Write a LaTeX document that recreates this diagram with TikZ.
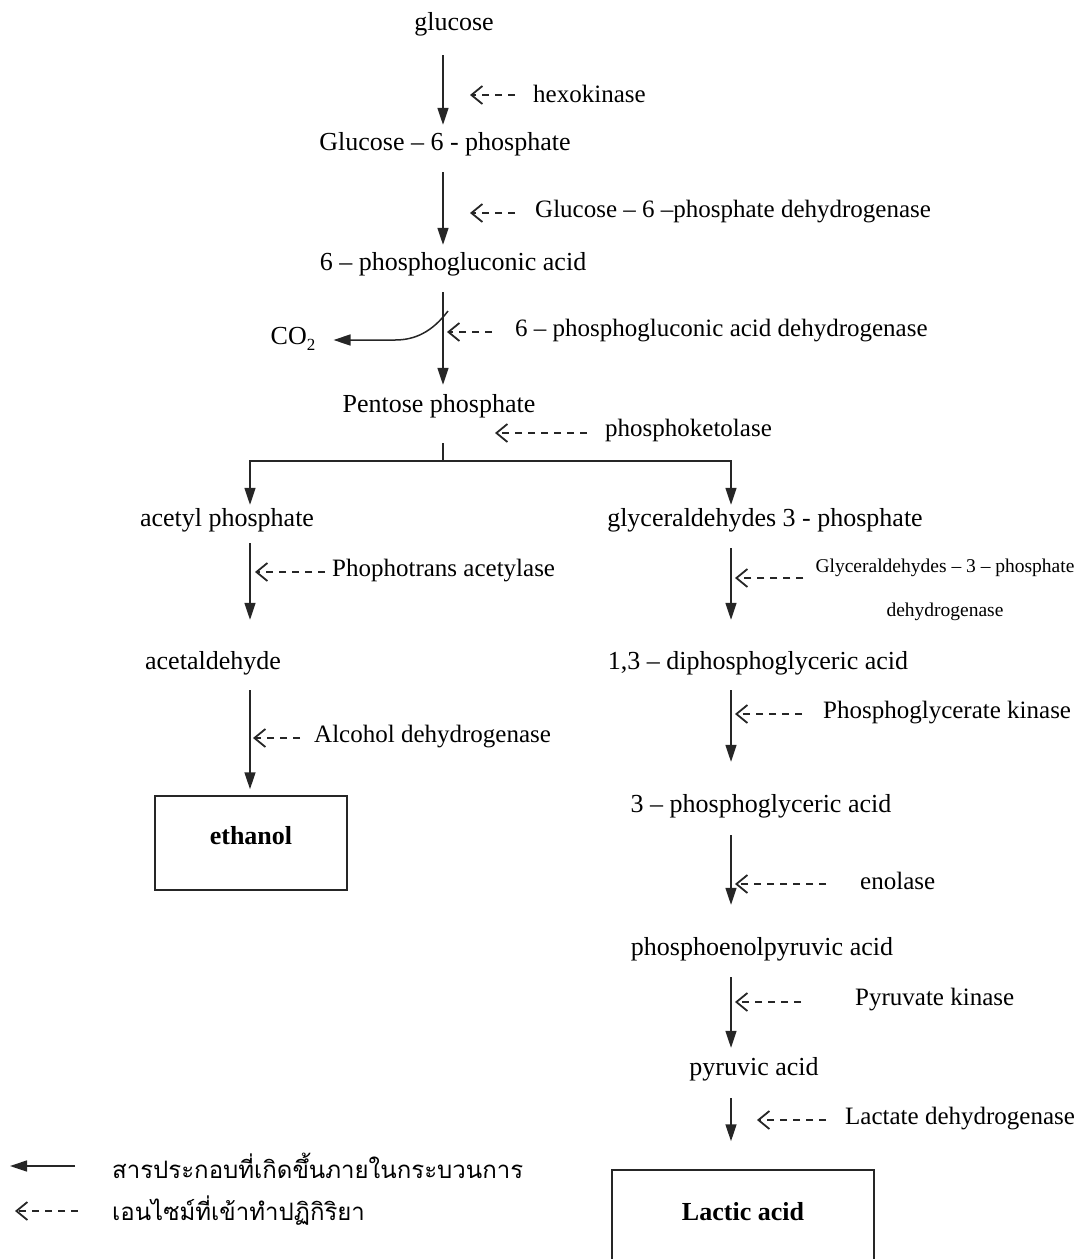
\documentclass[tikz,border=0pt]{standalone}
\usepackage{fontspec}
\setmainfont{Liberation Serif}
\newfontfamily\thaifont[Script=Thai]{Loma}
\usetikzlibrary{arrows.meta}
\begin{document}
\begin{tikzpicture}[x=1pt,y=-1pt,
  cmp/.style={inner sep=0pt, font=\fontsize{26}{30}\selectfont, text height=20pt, text depth=4pt},
  enzl/.style={inner sep=0pt, anchor=west, font=\fontsize{25}{29}\selectfont},
  main/.style={line width=1.5pt, draw=black!85, -{Triangle[length=17pt,width=11pt]}},
  plain/.style={line width=1.5pt, draw=black!85},
  enz/.style={line width=1.6pt, draw=black!85, dash pattern=on 7pt off 6pt, -{Straight Barb[length=11pt,width=18pt,line width=1.8pt]}},
  prodbox/.style={draw=black!85, line width=1.5pt, inner sep=0pt, font=\fontsize{26}{30}\selectfont\bfseries},
  thai/.style={inner sep=0pt, anchor=west, font=\fontsize{24}{28}\thaifont}]
\useasboundingbox (0,0) rectangle (1082,1259);
% spines
\coordinate (sp) at (443,0);
\coordinate (sl) at (250,0);
\coordinate (sr) at (731,0);
% compounds
\node[cmp] (glc) at (454,22) {glucose};
\node[cmp] (g6p) at (445,142) {Glucose – 6 - phosphate};
\node[cmp] (pga) at (453,262) {6 – phosphogluconic acid};
\node[cmp] (pent) at (439,404) {Pentose phosphate};
\node[cmp] (acp) at (227,518) {acetyl phosphate};
\node[cmp] (gap) at (765,518) {glyceraldehydes 3 - phosphate};
\node[cmp] (acd) at (213,661) {acetaldehyde};
\node[cmp] (dpg) at (758,661) {1,3 – diphosphoglyceric acid};
\node[cmp] (ppg) at (761,804) {3 – phosphoglyceric acid};
\node[cmp] (pep) at (762,947) {phosphoenolpyruvic acid};
\node[cmp] (pyr) at (754,1067) {pyruvic acid};
\node[cmp] (co2) at (293,336) {CO\raisebox{-6pt}{\fontsize{17}{20}\selectfont 2}};
% products
\node[prodbox, minimum width=192pt, text height=48pt, text depth=46pt] (eth) at (251,843) {ethanol};
\node[prodbox, minimum width=262pt, text height=50pt, text depth=60pt] (lac) at (743,1225) {Lactic acid};
% enzymes
\node[enzl] (hexo) at (533,94) {hexokinase};
\node[enzl] (g6pdh) at (535,212) {Glucose – 6 –phosphate dehydrogenase};
\node[enzl] (pgdh) at (515,331) {6 – phosphogluconic acid dehydrogenase};
\node[enzl] (pkt) at (605,430) {phosphoketolase};
\node[enzl] (pta) at (332,571) {Phophotrans acetylase};
\node[enzl] (adh) at (314,737) {Alcohol dehydrogenase};
\node[inner sep=0pt, align=center, font=\fontsize{19.5}{44}\selectfont] (gapdh) at (945,590) {Glyceraldehydes – 3 – phosphate\\dehydrogenase};
\node[enzl] (pgk) at (823,713) {Phosphoglycerate kinase};
\node[enzl] (eno) at (860,881) {enolase};
\node[enzl] (pk) at (855,1000) {Pyruvate kinase};
\node[enzl] (ldh) at (845,1119) {Lactate dehydrogenase};
% main arrows
\draw[main, shorten <=21pt, shorten >=5pt] (glc.south -| sp) -- (g6p.north -| sp);
\draw[main, shorten <=18pt, shorten >=5pt] (g6p.south -| sp) -- (pga.north -| sp);
\draw[main, shorten <=18pt, shorten >=7pt] (pga.south -| sp) -- (pent.north -| sp);
% CO2 branch
\coordinate (cst) at (448,311);
\coordinate (ce) at (395,340);
\draw[main, shorten >=18pt] (cst) .. controls (432,332) and (415,340) .. (ce) -- (ce -| co2.east);
% split
\coordinate (bj) at (443,461);
\draw[plain, shorten <=27pt] (pent.south -| sp) -- (bj);
\draw[main, shorten >=1pt] (bj) -| (acp.north -| sl);
\draw[main, shorten >=1pt] (bj) -| (gap.north -| sr);
% left column
\draw[main, shorten <=13pt, shorten >=29pt] (acp.south -| sl) -- (acd.north -| sl);
\draw[main, shorten <=17pt, shorten >=6pt] (acd.south -| sl) -- (eth.north -| sl);
% right column
\draw[main, shorten <=18pt, shorten >=29pt] (gap.south -| sr) -- (dpg.north -| sr);
\draw[main, shorten <=17pt, shorten >=30pt] (dpg.south -| sr) -- (ppg.north -| sr);
\draw[main, shorten <=19pt, shorten >=30pt] (ppg.south -| sr) -- (pep.north -| sr);
\draw[main, shorten <=18pt, shorten >=7pt] (pep.south -| sr) -- (pyr.north -| sr);
\draw[main, shorten <=19pt, shorten >=28pt] (pyr.south -| sr) -- (lac.north -| sr);
% enzyme arrows
\draw[enz, shorten <=18pt, shorten >=27pt] ([yshift=-1pt]hexo.west) -- ([yshift=-1pt]hexo.west -| sp);
\draw[enz, shorten <=20pt, shorten >=27pt] ([yshift=-1pt]g6pdh.west) -- ([yshift=-1pt]g6pdh.west -| sp);
\draw[enz, shorten <=23pt, shorten >=4pt] ([yshift=-1pt]pgdh.west) -- ([yshift=-1pt]pgdh.west -| sp);
\draw[enz, shorten <=18pt, shorten >=52pt] ([yshift=-3pt]pkt.west) -- ([yshift=-3pt]pkt.west -| sp);
\draw[enz, shorten <=7pt, shorten >=5pt] ([yshift=-1pt]pta.west) -- ([yshift=-1pt]pta.west -| sl);
\draw[enz, shorten <=14pt, shorten >=3pt] ([yshift=-1pt]adh.west) -- ([yshift=-1pt]adh.west -| sl);
\draw[enz, shorten <=12pt, shorten >=4pt] ([yshift=12pt]gapdh.west) -- ([yshift=12pt]gapdh.west -| sr);
\draw[enz, shorten <=21pt, shorten >=4pt] ([yshift=-1pt]pgk.west) -- ([yshift=-1pt]pgk.west -| sr);
\draw[enz, shorten <=34pt, shorten >=4pt] ([yshift=-3pt]eno.west) -- ([yshift=-3pt]eno.west -| sr);
\draw[enz, shorten <=54pt, shorten >=4pt] ([yshift=-2pt]pk.west) -- ([yshift=-2pt]pk.west -| sr);
\draw[enz, shorten <=19pt, shorten >=26pt] ([yshift=-1pt]ldh.west) -- ([yshift=-1pt]ldh.west -| sr);
% legend
\node[thai] (leg1) at (112,1166) {สารประกอบที่เกิดขึ้นภายในกระบวนการ};
\node[thai] (leg2) at (112,1211) {เอนไซม์ที่เข้าทำปฏิกิริยา};
\coordinate (l1) at (10,1166);
\coordinate (l2) at (15,1211);
\draw[main, shorten <=37pt] (leg1.west) -- (l1 |- leg1.west);
\draw[enz, shorten <=34pt] (leg2.west) -- (l2 |- leg2.west);
\end{tikzpicture}
\end{document}
